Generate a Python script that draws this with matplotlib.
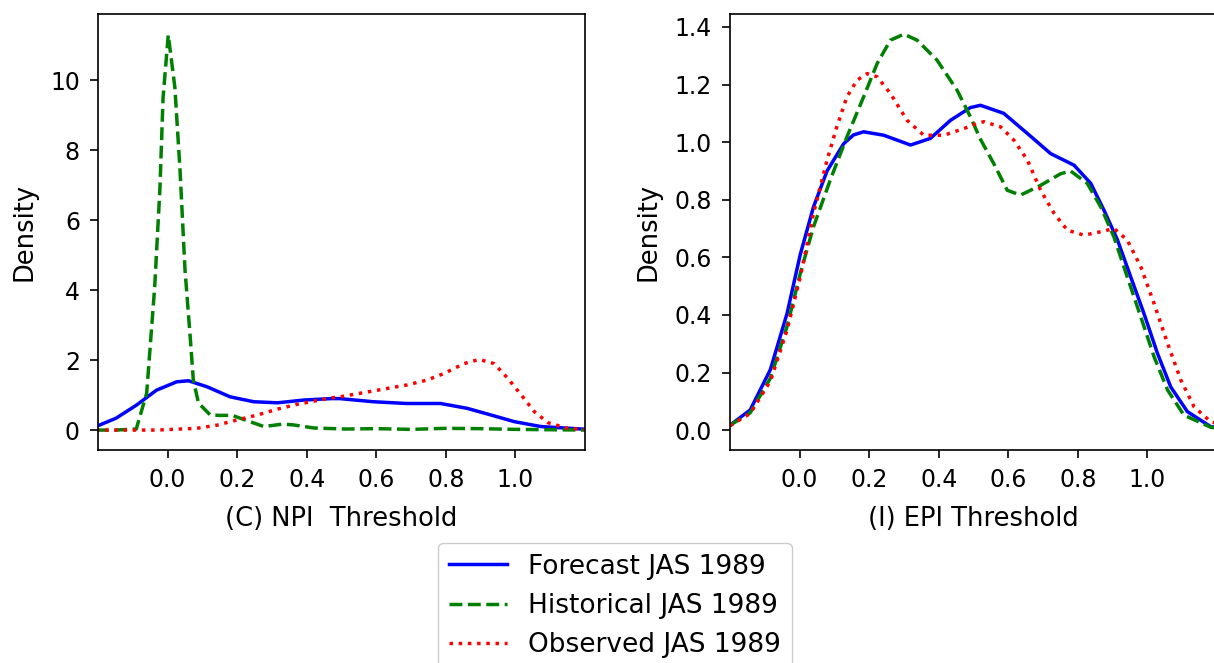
import matplotlib
matplotlib.use("Agg")
import matplotlib.pyplot as plt

# ---- data ----
# (C) NPI threshold panel
npi_fc_x = [-0.206, -0.148, -0.09, -0.032, 0.026, 0.06, 0.113, 0.18, 0.248, 0.316, 0.393, 0.47,
            0.495, 0.592, 0.688, 0.785, 0.862, 0.93, 0.997, 1.074, 1.19, 1.21]
npi_fc_y = [0.10, 0.34, 0.71, 1.14, 1.38, 1.41, 1.24, 0.95, 0.81, 0.78, 0.86, 0.90,
            0.90, 0.81, 0.76, 0.76, 0.62, 0.43, 0.24, 0.10, 0.03, 0.02]

npi_hist_x = [-0.206, -0.15, -0.09, -0.06, -0.037, -0.022, -0.013, 0.002, 0.021, 0.036, 0.05,
              0.065, 0.074, 0.089, 0.123, 0.15, 0.186, 0.22, 0.277, 0.33, 0.36, 0.42, 0.51,
              0.6, 0.7, 0.8, 0.9, 1.0, 1.1, 1.21]
npi_hist_y = [0.0, 0.0, 0.03, 1.06, 4.1, 6.9, 9.5, 11.3, 9.8, 7.4, 4.6,
              2.67, 1.43, 0.77, 0.43, 0.42, 0.42, 0.30, 0.10, 0.17, 0.15, 0.06, 0.03,
              0.04, 0.02, 0.05, 0.04, 0.02, 0.01, 0.0]

npi_obs_x = [-0.206, -0.09, -0.032, 0.084, 0.142, 0.2, 0.258, 0.316, 0.374, 0.47, 0.495, 0.592,
             0.688, 0.746, 0.795, 0.852, 0.896, 0.939, 0.978, 1.017, 1.055, 1.094, 1.15, 1.21]
npi_obs_y = [0.0, 0.0, 0.0, 0.05, 0.14, 0.29, 0.43, 0.60, 0.74, 0.92, 0.95, 1.12,
             1.29, 1.43, 1.62, 1.90, 2.02, 1.90, 1.48, 1.00, 0.52, 0.21, 0.05, 0.01]

# (I) EPI threshold panel
epi_fc_x = [-0.2, -0.142, -0.084, -0.036, 0.002, 0.04, 0.079, 0.127, 0.155, 0.184, 0.242, 0.319,
            0.376, 0.434, 0.491, 0.52, 0.587, 0.655, 0.722, 0.789, 0.837, 0.875, 0.914, 0.952,
            0.99, 1.029, 1.067, 1.115, 1.182, 1.21]
epi_fc_y = [0.017, 0.07, 0.21, 0.405, 0.61, 0.775, 0.90, 0.995, 1.025, 1.036, 1.024, 0.99,
            1.013, 1.076, 1.12, 1.128, 1.10, 1.03, 0.96, 0.92, 0.857, 0.764, 0.66, 0.532,
            0.405, 0.266, 0.15, 0.064, 0.012, 0.008]

epi_hist_x = [-0.2, -0.142, -0.084, -0.036, 0.002, 0.04, 0.088, 0.136, 0.184, 0.223, 0.261, 0.3,
              0.338, 0.395, 0.453, 0.491, 0.52, 0.558, 0.597, 0.635, 0.693, 0.75, 0.779, 0.827,
              0.866, 0.904, 0.942, 0.981, 1.019, 1.058, 1.105, 1.182, 1.21]
epi_hist_y = [0.017, 0.06, 0.18, 0.36, 0.544, 0.706, 0.868, 1.018, 1.157, 1.273, 1.354, 1.375,
              1.354, 1.285, 1.18, 1.088, 1.01, 0.926, 0.833, 0.816, 0.85, 0.89, 0.90, 0.857,
              0.775, 0.67, 0.532, 0.393, 0.255, 0.139, 0.052, 0.01, 0.006]

epi_obs_x = [-0.2, -0.142, -0.084, -0.036, 0.002, 0.04, 0.079, 0.107, 0.136, 0.165, 0.194, 0.223,
             0.261, 0.309, 0.357, 0.415, 0.472, 0.51, 0.53, 0.578, 0.616, 0.655, 0.693, 0.732,
             0.77, 0.818, 0.866, 0.904, 0.942, 0.981, 1.019, 1.058, 1.096, 1.134, 1.182, 1.21]
epi_obs_y = [0.015, 0.058, 0.17, 0.347, 0.532, 0.752, 0.9375, 1.053, 1.157, 1.215, 1.238, 1.227,
             1.169, 1.076, 1.024, 1.024, 1.047, 1.065, 1.071, 1.053, 1.007, 0.9375, 0.833, 0.752,
             0.694, 0.677, 0.689, 0.70, 0.66, 0.567, 0.44, 0.301, 0.174, 0.081, 0.029, 0.02]

xticks = [0.0, 0.2, 0.4, 0.6, 0.8, 1.0]
labels = ["Forecast JAS 1989", "Historical JAS 1989", "Observed JAS 1989"]
xlabels = ["(C) NPI  Threshold", "(I) EPI Threshold"]

W, H = 1214, 663
fig = plt.figure(figsize=(W / 100, H / 100), dpi=100)
ax1 = fig.add_axes([98 / W, (H - 450) / H, 487 / W, 436 / H])
ax2 = fig.add_axes([730 / W, (H - 450) / H, 487 / W, 436 / H])

panels = [
    (ax1, (npi_fc_x, npi_fc_y), (npi_hist_x, npi_hist_y), (npi_obs_x, npi_obs_y), xlabels[0]),
    (ax2, (epi_fc_x, epi_fc_y), (epi_hist_x, epi_hist_y), (epi_obs_x, epi_obs_y), xlabels[1]),
]
handles = None
for ax, fc, hist, obs, xl in panels:
    l1, = ax.plot(fc[0], fc[1], color="blue", lw=2.5, ls="-", label=labels[0])
    l2, = ax.plot(hist[0], hist[1], color="green", lw=2.5, ls="--", label=labels[1])
    l3, = ax.plot(obs[0], obs[1], color="red", lw=2.5, ls=":", label=labels[2])
    handles = [l1, l2, l3]
    ax.set_xlim(-0.2, 1.2)
    ax.set_xticks(xticks)
    ax.set_xlabel(xl, fontsize=18.5, labelpad=10)
    ax.set_ylabel("Density", fontsize=18.5, labelpad=9)
    ax.tick_params(axis="both", labelsize=17, length=6, width=1.2)
    ax.tick_params(axis="x", pad=7)
    ax.tick_params(axis="y", pad=7)
    for s in ax.spines.values():
        s.set_linewidth(1.2)

ax1.set_ylim(-0.57, 11.9)
ax1.set_yticks([0, 2, 4, 6, 8, 10])
ax2.set_ylim(-0.069, 1.445)
ax2.set_yticks([0.0, 0.2, 0.4, 0.6, 0.8, 1.0, 1.2, 1.4])

fig.legend(handles, labels, loc="upper center", bbox_to_anchor=(615 / W, 1 - 543 / H),
           borderaxespad=0, fontsize=19, handlelength=2.2, framealpha=1)

fig.savefig("out.png", dpi=100)
